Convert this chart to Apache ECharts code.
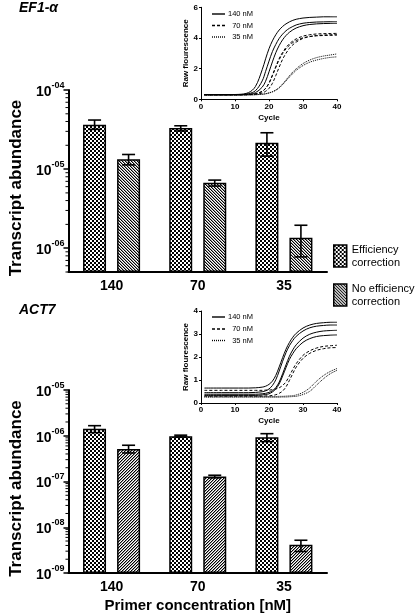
<!DOCTYPE html>
<html><head><meta charset="utf-8">
<script src="https://cdn.jsdelivr.net/npm/echarts@6/dist/echarts.min.js"></script>
<style>html,body{margin:0;padding:0;background:#fff}#c{width:415px;height:615px}</style>
</head><body><div id="c"></div>
<script>
// ---------- data ----------
const categories = ['140', '70', '35'];
const seriesNames = ['Efficiency correction', 'No efficiency correction'];
const curveNames = ['140 nM', '70 nM', '35 nM'];

// EF1-alpha transcript abundance
const ef1Eff      = [3.64e-5, 3.30e-5, 2.16e-5];
const ef1EffLow   = [3.18e-5, 3.03e-5, 1.46e-5];
const ef1EffHigh  = [4.17e-5, 3.53e-5, 2.88e-5];
const ef1NoEff     = [1.33e-5, 6.71e-6, 1.36e-6];
const ef1NoEffLow  = [1.13e-5, 6.10e-6, 7.76e-7];
const ef1NoEffHigh = [1.53e-5, 7.26e-6, 1.95e-6];

// ACT7 transcript abundance
const act7Eff      = [1.43e-6, 9.8e-7, 9.26e-7];
const act7EffLow   = [1.17e-6, 9.4e-7, 7.45e-7];
const act7EffHigh  = [1.66e-6, 1.03e-6, 1.11e-6];
const act7NoEff     = [5.15e-7, 1.28e-7, 4.13e-9];
const act7NoEffLow  = [4.20e-7, 1.20e-7, 2.95e-9];
const act7NoEffHigh = [6.20e-7, 1.37e-7, 5.20e-9];

// amplification curves (insets)
const cycles = [1, 6, 11, 14, 16, 18, 19, 20, 21, 22, 23, 24, 25, 26, 27, 28, 30, 32, 34, 36, 38, 40];
const ef1_140a = [0.30,0.30,0.32,0.44,0.83,1.93,2.64,3.30,3.81,4.21,4.52,4.75,4.92,5.05,5.15,5.22,5.30,5.34,5.36,5.38,5.38,5.38];
const ef1_140b = [0.30,0.30,0.30,0.37,0.56,1.20,1.82,2.49,3.11,3.58,3.97,4.25,4.47,4.63,4.75,4.85,4.96,5.01,5.04,5.05,5.06,5.06];
const ef1_140c = [0.30,0.30,0.30,0.33,0.43,0.79,1.18,1.79,2.44,3.04,3.51,3.88,4.16,4.37,4.53,4.65,4.80,4.88,4.92,4.94,4.95,4.95];
const ef1_70a  = [0.30,0.30,0.30,0.31,0.36,0.52,0.72,1.06,1.58,2.14,2.66,3.06,3.38,3.62,3.80,3.94,4.12,4.21,4.26,4.28,4.29,4.30];
const ef1_70b  = [0.30,0.30,0.30,0.30,0.33,0.41,0.52,0.71,1.04,1.55,2.10,2.61,3.00,3.32,3.55,3.73,3.97,4.09,4.16,4.19,4.21,4.22];
const ef1_70c  = [0.30,0.30,0.30,0.31,0.35,0.51,0.71,1.04,1.54,2.08,2.59,2.98,3.29,3.52,3.70,3.83,4.01,4.09,4.14,4.16,4.17,4.18];
const ef1_35a  = [0.28,0.28,0.28,0.29,0.30,0.33,0.36,0.42,0.50,0.61,0.77,1.00,1.26,1.53,1.78,1.99,2.33,2.56,2.72,2.82,2.89,2.96];
const ef1_35b  = [0.28,0.28,0.28,0.29,0.30,0.33,0.36,0.41,0.48,0.59,0.74,0.96,1.20,1.45,1.68,1.89,2.20,2.42,2.56,2.66,2.73,2.77];

const act_140a = [0.65,0.65,0.65,0.65,0.66,0.69,0.73,0.81,0.95,1.20,1.57,1.97,2.34,2.63,2.86,3.03,3.26,3.39,3.46,3.49,3.51,3.51];
const act_140b = [0.45,0.45,0.45,0.45,0.46,0.49,0.53,0.61,0.76,1.01,1.39,1.81,2.19,2.49,2.72,2.90,3.13,3.27,3.34,3.37,3.39,3.39];
const act_140c = [0.38,0.38,0.38,0.38,0.38,0.40,0.42,0.46,0.53,0.67,0.91,1.27,1.66,2.03,2.31,2.53,2.82,2.99,3.08,3.13,3.15,3.16];
const act_140d = [0.33,0.33,0.33,0.33,0.33,0.35,0.37,0.40,0.48,0.61,0.83,1.17,1.54,1.89,2.15,2.36,2.64,2.80,2.89,2.93,2.95,2.96];
const act_70a  = [0.55,0.55,0.55,0.55,0.55,0.55,0.56,0.56,0.58,0.61,0.66,0.76,0.92,1.18,1.46,1.71,2.07,2.27,2.39,2.46,2.49,2.51];
const act_70b  = [0.30,0.30,0.30,0.30,0.30,0.30,0.31,0.31,0.33,0.36,0.42,0.52,0.70,0.98,1.28,1.56,1.94,2.16,2.29,2.36,2.40,2.41];
const act_35a  = [0.28,0.28,0.28,0.28,0.28,0.28,0.28,0.28,0.28,0.28,0.29,0.29,0.30,0.31,0.32,0.35,0.46,0.66,0.95,1.19,1.37,1.50];
const act_35b  = [0.25,0.25,0.25,0.25,0.25,0.25,0.25,0.25,0.25,0.25,0.25,0.26,0.26,0.27,0.28,0.29,0.37,0.51,0.78,1.05,1.27,1.42];

const minorMantissas = [2, 3, 4, 5, 6, 7, 8, 9];
const ef1Decades = [-7, -6, -5];
const act7Decades = [-9, -8, -7, -6];

// ---------- styling helpers ----------
const FONT = '"Liberation Sans", Arial, sans-serif';

function makeChecker() {
  const c = document.createElement('canvas'); c.width = 4; c.height = 4;
  const g = c.getContext('2d');
  g.fillStyle = '#fff'; g.fillRect(0, 0, 4, 4);
  g.fillStyle = '#000'; g.fillRect(0, 0, 2, 2); g.fillRect(2, 2, 2, 2);
  return c;
}
function makeHatch(back) {
  const c = document.createElement('canvas'); c.width = 3; c.height = 3;
  const g = c.getContext('2d');
  g.fillStyle = '#fff'; g.fillRect(0, 0, 3, 3);
  for (let i = 0; i < 3; i++) {
    const x = back ? i : 2 - i;
    g.fillStyle = '#000'; g.fillRect(x, i, 1, 1);
    g.fillStyle = '#9a9a9a'; g.fillRect((x + 1) % 3, i, 1, 1);
  }
  return c;
}
const checker = { image: makeChecker(), repeat: 'repeat' };
const hatchBack = { image: makeHatch(true), repeat: 'repeat' };
const hatchFwd = { image: makeHatch(false), repeat: 'repeat' };

function sciLabel(v) {
  const e = Math.round(Math.log10(v));
  const s = (e < 0 ? '-' : '') + String(Math.abs(e)).padStart(2, '0');
  return '{b|10}{s|' + s + '}';
}

function barSeries(name, data, idx, pattern) {
  return {
    type: 'bar', name: name, data: data, xAxisIndex: idx, yAxisIndex: idx,
    barWidth: 23, barGap: '48%',
    itemStyle: { color: pattern, borderColor: '#000', borderWidth: 1.5 },
    z: 2
  };
}
function errSeries(lows, highs, idx, offset) {
  return {
    type: 'custom', xAxisIndex: idx, yAxisIndex: idx, silent: true, z: 5, clip: false,
    data: lows.map((l, i) => [i, l, highs[i]]),
    encode: { x: 0, y: [1, 2] },
    renderItem: function (p, api) {
      const i = api.value(0);
      const lo = api.coord([i, api.value(1)]);
      const hi = api.coord([i, api.value(2)]);
      const x = lo[0] + offset, hw = 6.5;
      const st = { stroke: '#000', lineWidth: 1.6 };
      return { type: 'group', children: [
        { type: 'line', shape: { x1: x, y1: hi[1], x2: x, y2: lo[1] }, style: st },
        { type: 'line', shape: { x1: x - hw, y1: hi[1], x2: x + hw, y2: hi[1] }, style: st },
        { type: 'line', shape: { x1: x - hw, y1: lo[1], x2: x + hw, y2: lo[1] }, style: st }
      ]};
    }
  };
}
function minorTicks(idx, decades) {
  const vals = [];
  decades.forEach(d => minorMantissas.forEach(m => vals.push([0, m * Math.pow(10, d)])));
  return {
    type: 'custom', xAxisIndex: idx, yAxisIndex: idx, silent: true, z: 6, clip: false,
    data: vals, encode: { x: 0, y: 1 },
    renderItem: function (p, api) {
      const y = api.coord([0, api.value(1)])[1];
      const cs = p.coordSys;
      if (y < cs.y - 0.5 || y > cs.y + cs.height + 0.5) return null;
      return { type: 'line', shape: { x1: cs.x - 3, y1: y, x2: cs.x, y2: y }, style: { stroke: '#000', lineWidth: 1 } };
    }
  };
}
const lineDash = { '140 nM': null, '70 nM': [3, 2], '35 nM': [1, 1] };
function curve(name, vals, idx) {
  return {
    type: 'line', name: name, xAxisIndex: idx, yAxisIndex: idx,
    data: cycles.map((c, i) => [c, vals[i]]),
    symbol: 'none', showSymbol: false, smooth: 0.35, silent: true, z: 3,
    lineStyle: { color: '#000', width: 1, type: lineDash[name] || 'solid' }
  };
}
// small key inside each inset (line sample + label)
function insetKey(x0, ys) {
  const els = [];
  curveNames.forEach((n, k) => {
    els.push({ type: 'line', silent: true,
      shape: { x1: x0, y1: ys[k], x2: x0 + 13, y2: ys[k] },
      style: { stroke: '#000', lineWidth: 1.4, lineDash: lineDash[n] } });
    els.push({ type: 'text', silent: true, x: x0 + 41, y: ys[k],
      style: { text: n, align: 'right', verticalAlign: 'middle', fill: '#000',
               font: '7.5px ' + FONT } });
  });
  return els;
}

function catAxis(grid, withName) {
  const a = {
    type: 'category', gridIndex: grid, data: categories,
    axisLine: { lineStyle: { color: '#000', width: 2 } },
    axisTick: { alignWithLabel: true, length: 4, lineStyle: { color: '#000', width: 1.5 } },
    axisLabel: { fontSize: 14, fontWeight: 'bold', color: '#000', margin: 7, fontFamily: FONT }
  };
  if (withName) {
    a.name = 'Primer concentration [nM]'; a.nameLocation = 'middle'; a.nameGap = 25;
    a.nameTextStyle = { fontSize: 15, fontWeight: 'bold', color: '#000', fontFamily: FONT };
  }
  return a;
}
function logAxis(grid, min, max) {
  return {
    type: 'log', logBase: 10, gridIndex: grid, min: min, max: max, startValue: min,
    axisLine: { show: true, lineStyle: { color: '#000', width: 2 } },
    axisTick: { show: true, length: 5, lineStyle: { color: '#000', width: 1.5 } },
    splitLine: { show: false },
    axisLabel: {
      showMinLabel: min === 1e-9, margin: 4, formatter: sciLabel, color: '#000',
      rich: {
        b: { fontSize: 14, fontWeight: 'bold', color: '#000', fontFamily: FONT, lineHeight: 18, verticalAlign: 'bottom' },
        s: { fontSize: 9, fontWeight: 'bold', color: '#000', fontFamily: FONT, lineHeight: 18, verticalAlign: 'top' }
      }
    },
    name: 'Transcript abundance', nameLocation: 'middle', nameGap: 37,
    nameTextStyle: { fontSize: 17, fontWeight: 'bold', color: '#000', fontFamily: FONT, padding: [0, 14, 0, 0] }
  };
}
function insetX(grid) {
  return {
    type: 'value', gridIndex: grid, min: 0, max: 40, interval: 10,
    axisLine: { lineStyle: { color: '#000', width: 1 } },
    axisTick: { length: 2, lineStyle: { color: '#000' } },
    splitLine: { show: false },
    axisLabel: { fontSize: 8, fontWeight: 'bold', color: '#000', margin: 3, fontFamily: FONT },
    name: 'Cycle', nameLocation: 'middle', nameGap: 14,
    nameTextStyle: { fontSize: 8, fontWeight: 'bold', color: '#000', fontFamily: FONT }
  };
}
function insetY(grid, max, interval) {
  return {
    type: 'value', gridIndex: grid, min: 0, max: max, interval: interval,
    axisLine: { show: true, lineStyle: { color: '#000', width: 1 } },
    axisTick: { show: true, length: 2, lineStyle: { color: '#000' } },
    splitLine: { show: false },
    axisLabel: { fontSize: 8, fontWeight: 'bold', color: '#000', margin: 3, fontFamily: FONT },
    name: 'Raw flourescence', nameLocation: 'middle', nameGap: 8,
    nameTextStyle: { fontSize: 8, fontWeight: 'bold', color: '#000', fontFamily: FONT }
  };
}

const chart = echarts.init(document.getElementById('c'), null, { renderer: 'canvas' });
chart.setOption({
  animation: false,
  backgroundColor: '#fff',
  textStyle: { fontFamily: FONT },
  title: [
    { text: 'EF1-α', left: 19, top: 1, padding: 0,
      textStyle: { fontSize: 14, fontWeight: 'bold', fontStyle: 'italic', color: '#000', fontFamily: FONT } },
    { text: 'ACT7', left: 19, top: 303, padding: 0,
      textStyle: { fontSize: 14, fontWeight: 'bold', fontStyle: 'italic', color: '#000', fontFamily: FONT } }
  ],
  legend: [
    { data: seriesNames, orient: 'vertical', left: 333, top: 243, padding: 0, icon: 'rect',
      itemWidth: 13, itemHeight: 22, itemGap: 13, selectedMode: false,
      itemStyle: { borderColor: '#000', borderWidth: 1.5 },
      formatter: n => n.replace(' correction', '\ncorrection'),
      textStyle: { fontSize: 11, lineHeight: 13, color: '#000', fontFamily: FONT } }
  ],
  graphic: { elements: insetKey(212, [14, 25.5, 37]).concat(insetKey(212, [317, 329, 340.5])) },
  grid: [
    { left: 54, top: 90, width: 273, height: 182 },
    { left: 54, top: 390, width: 273, height: 183 },
    { left: 201, top: 7.3, width: 136, height: 92 },
    { left: 201, top: 311, width: 136, height: 92 }
  ],
  xAxis: [catAxis(0, false), catAxis(1, true), insetX(2), insetX(3)],
  yAxis: [logAxis(0, 5e-7, 1e-4), logAxis(1, 1e-9, 1e-5), insetY(2, 6, 2), insetY(3, 4, 1)],
  series: [
    barSeries(seriesNames[0], ef1Eff, 0, checker),
    barSeries(seriesNames[1], ef1NoEff, 0, hatchBack),
    barSeries(seriesNames[0], act7Eff, 1, checker),
    barSeries(seriesNames[1], act7NoEff, 1, hatchFwd),
    errSeries(ef1EffLow, ef1EffHigh, 0, -17),
    errSeries(ef1NoEffLow, ef1NoEffHigh, 0, 17),
    errSeries(act7EffLow, act7EffHigh, 1, -17),
    errSeries(act7NoEffLow, act7NoEffHigh, 1, 17),
    minorTicks(0, ef1Decades),
    minorTicks(1, act7Decades),
    curve('140 nM', ef1_140a, 2), curve('140 nM', ef1_140b, 2), curve('140 nM', ef1_140c, 2),
    curve('70 nM', ef1_70a, 2), curve('70 nM', ef1_70b, 2), curve('70 nM', ef1_70c, 2),
    curve('35 nM', ef1_35a, 2), curve('35 nM', ef1_35b, 2),
    curve('140 nM', act_140a, 3), curve('140 nM', act_140b, 3), curve('140 nM', act_140c, 3), curve('140 nM', act_140d, 3),
    curve('70 nM', act_70a, 3), curve('70 nM', act_70b, 3),
    curve('35 nM', act_35a, 3), curve('35 nM', act_35b, 3)
  ]
});
</script>
</body></html>
